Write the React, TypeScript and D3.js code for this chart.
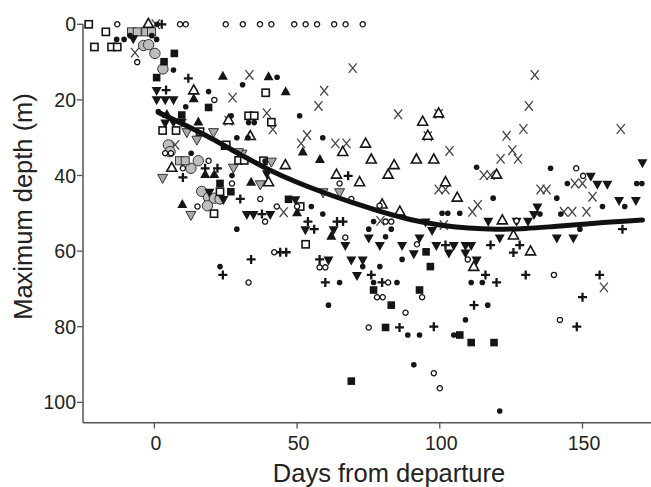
import React from 'react';
import * as d3 from 'd3';

type Pt = [number, number]; // [days from departure, maximum depth]

// axis ticks
const xTicks = [0, 50, 100, 150];
const yTicks = [0, 20, 40, 60, 80, 100];

// points, one array per marker
const openCircles: Pt[] = [
  [-13, 0], [9, 0], [11, 0], [25, 0], [31, 0], [37, 0], [41, 0], [49, 0], [53, 0], [57, 0], [63, 0], [67, 0], [73, 0],
  [-6, 10], [21, 20], [10, 38.1], [19, 36.1], [3.8, 34.1], [5.8, 34.1], [15.1, 48.2], [27.2, 42.1], [37.1, 46.2],
  [42.9, 48.2], [50, 48.2], [38.8, 52.2], [42, 60.3], [33, 68.3], [57.9, 64.3], [59.9, 64.3], [64.9, 42.1],
  [69, 46.2], [78.9, 48], [81, 52.2], [83, 52.2], [66.9, 56.4], [92, 58.2], [81.9, 68.3], [78, 72.2], [80, 72.2],
  [88, 76.3], [93.8, 72.2], [75.1, 80.2], [97.9, 92.3], [100, 96.3], [147.8, 38.1], [150.2, 40.1], [126.9, 52],
  [109.8, 62.2], [140, 66.3], [142.1, 78.2],
];

const filledCircles: Pt[] = [
  [1, 0], [-13.2, 4], [-10.6, 4], [-8.5, 3], [-0.9, 3], [0.8, 4], [6.7, 12.1], [19, 17.8], [11, 21.8], [30.9, 16],
  [43, 14], [1.4, 23.1], [26.9, 24.2], [33, 26], [35, 26], [50.9, 24.2], [59, 30], [28.9, 30], [32.8, 30], [38.8, 36.2],
  [27.2, 40], [12.9, 34.1], [55, 48.2], [59, 50.2], [76.8, 52.2], [75.1, 54.2], [83, 54.2], [81, 56.2], [86.8, 62.2],
  [73, 64.1], [79, 64.1], [76.8, 68.3], [85, 68.3], [61, 74.3], [64.9, 68.3], [28.9, 54.2], [23, 64.1],
  [112.9, 37.8], [138.8, 38.1], [144.7, 42.1], [169, 42.1], [170.8, 42.1], [118.7, 46], [141, 46], [157, 48.2],
  [164.8, 48.2], [100.8, 50], [102.8, 50], [107, 50], [135.1, 50.2], [142.4, 50.2], [149.1, 54.2], [111, 68.3],
  [114.9, 68.3], [116.8, 74.3], [109, 78.2], [88.8, 82.2], [92.9, 82.2], [90.9, 90.1], [104.9, 82.2], [121, 102.3],
];

const openSquares: Pt[] = [
  [-23, 0], [-17, 2], [-21, 6], [-15, 6], [-13, 6], [39, 18.1], [33, 24.2], [35, 24.2], [41, 25.9], [24.8, 32.1],
  [29.5, 36], [31.5, 36], [38.2, 36.1], [2.9, 28.1], [7.6, 28.1], [16, 28.4], [25.2, 31.9], [20.9, 50.1], [23, 44.3],
  [53, 58.2], [51.1, 48.2],
];

const filledSquares: Pt[] = [
  [7, 7.7], [3.4, 9.9], [0.8, 14.1], [19, 22], [9.6, 24], [23, 42.1], [26.8, 44.3], [47, 46.3], [95.2, 60.2],
  [96.7, 64.1], [76.8, 70.3], [83, 74.3], [92.9, 70.3], [81, 80.2], [69, 94.4], [107, 82.2], [111, 84.2], [119, 84.2],
];

const pluses: Pt[] = [
  [2.6, 0], [11.9, 14.3], [4.1, 17.4], [17.8, 38.1], [22.1, 38.1], [10, 40.5], [67.9, 40.1], [30.1, 46.2],
  [53.8, 52.2], [56, 54.2], [64, 52.2], [66.1, 52.2], [37.7, 50.2], [44.1, 60.3], [46.2, 60.3], [33.9, 62.2],
  [24, 66.3], [57.9, 62.2], [59.9, 68.3], [76, 66.3], [79.8, 68.3], [85.9, 80.2], [164, 54.2], [102, 58.4],
  [117.8, 58.4], [128, 58.4], [125.8, 60.4], [116, 66.3], [119.9, 68.3], [130.1, 66.3], [156, 66.3], [112, 74.3],
  [150, 72.2], [148, 80], [97.9, 80],
];

const crosses: Pt[] = [
  [-6.8, 7.5], [0.5, 0], [7.3, 31.9], [33.3, 13.4], [27.4, 19.4], [69.5, 11.6], [59.5, 17.6], [57.5, 21.6],
  [85.4, 23.8], [99.6, 23.7], [95.8, 29.6], [103.4, 33.5], [133.3, 13.4], [131.2, 21.6], [129.3, 27.7],
  [123.4, 29.5], [125.4, 33.3], [121.3, 35.6], [127.4, 35.6], [163.4, 27.7], [39.4, 23.5], [41.5, 27.8], [26, 25.5],
  [53.5, 29.3], [51.4, 31.5], [63.4, 31.5], [67.3, 31.5], [45.3, 49.7], [79.2, 52], [115.4, 39.9], [117.8, 39.9],
  [147.3, 42.1], [150, 42.1], [99.6, 43.7], [102, 43.7], [135.3, 43.7], [137.4, 43.7], [153.5, 45.6], [111.4, 49.6],
  [113.3, 47.8], [143.5, 49.6], [146.4, 49.6], [151.4, 49.6], [101.4, 53.1], [157.5, 69.6],
];

const openTriangles: Pt[] = [
  [-2.1, 0], [13.8, 17.6], [26, 25.5], [33.6, 29.7], [94, 25.9], [99.6, 23.7], [95.8, 29.6], [97.9, 35.9],
  [74, 31.7], [66, 33.9], [76, 35.9], [84, 37.4], [91.8, 35.9], [45.9, 37.4], [63.8, 39.9], [81.9, 39.9],
  [71.9, 41.9], [40, 41.9], [79.8, 47.8], [86, 49.7], [6.1, 38.1], [119.9, 39.9], [102, 41.9], [106.1, 46],
  [121.9, 52], [125.8, 56], [131.8, 60.2], [111.9, 64.3],
];

const filledTriangles: Pt[] = [
  [24, 13.9], [40, 14], [46, 18], [13.8, 19.8], [52, 33.9], [58, 35.9], [33.9, 41.9], [17.8, 39.9], [21, 39.9],
  [9.8, 47.8], [4.4, 24], [15.4, 26], [50, 50], [62, 56.2],
];

const downTriangles: Pt[] = [
  [-7.4, 3.7], [0.8, 17.4], [0.8, 19.8], [3.8, 19.8], [6.7, 19.8], [6.7, 25.8], [9.6, 25.8], [3.8, 26],
  [39.4, 39.4], [24.2, 46.2], [19.3, 44.3], [49.4, 46.3], [32.4, 50.2], [34.7, 50.2], [40.6, 50.2], [52.9, 54.2],
  [62.8, 54.2], [66.9, 58.4], [69, 62.2], [73, 62.2], [71, 66.3], [61, 62.2], [75.1, 56.4], [79, 58.4],
  [86.8, 58.4], [92.9, 56.4], [90.9, 60.6], [171, 36.5], [152.9, 40.1], [155.2, 42.2], [158.7, 42.2],
  [162.8, 46.5], [168.7, 46.5], [134.2, 48.2], [133, 50.2], [117, 52], [126.9, 52], [130.9, 52], [95, 52.2],
  [97.3, 54.4], [121, 56.4], [141, 56.4], [146.8, 56.4], [98.8, 58.4], [104.9, 58.4], [109, 58.4], [111, 58.4],
  [103.2, 60.4], [109, 60.4], [112.9, 62.2],
];

const grayDownTriangles: Pt[] = [
  [20.7, 28.4], [30.7, 34.1], [41, 36.2], [11.4, 28.4], [14.9, 30.4], [29.5, 33.7], [37.1, 42.2], [27.7, 37.8],
  [59.1, 44.3], [64.9, 44.3], [2.9, 40.5], [12.8, 50.3],
];

const grayCircles: Pt[] = [
  [-3.8, 5.6], [-2, 5.4], [0.2, 7.7], [3, 11.8], [4.9, 31.9], [5.5, 33.7], [12.8, 38.1], [15.4, 36.1],
  [16.6, 44.2], [19, 45.8], [21, 46], [23, 46.2], [18.6, 48],
];

const graySquares: Pt[] = [
  [-8, 2], [-6, 2], [-3, 2], [-1, 2], [8.8, 36.1], [10.8, 36.1],
];

// fitted trend line
const fitLine: Pt[] = [
  [1.4, 23.3], [10, 26.4], [20, 30.2], [30, 34.4], [40, 38.4], [50, 41.8], [60, 44.7], [70, 47.3], [80, 49.7],
  [90, 51.7], [100, 53.1], [110, 53.9], [120, 54.2], [130, 54], [140, 53.5], [150, 52.9], [160, 52.3], [171, 51.8],
];

const W = 651;
const H = 487;
const x = d3.scaleLinear().domain([-25, 174]).range([83, 651]);
const y = d3.scaleLinear().domain([0, 105.4]).range([24.3, 422.7]);

const ink = '#151515';
const font = '"Liberation Sans", Arial, Helvetica, sans-serif';

const triUp = (s: number) => `M0,${-s * 0.6}L${s / 2},${s * 0.3}L${-s / 2},${s * 0.3}Z`;
const triDown = (s: number) => `M0,${s * 0.6}L${s / 2},${-s * 0.3}L${-s / 2},${-s * 0.3}Z`;

const Marks = ({ pts, render }: { pts: Pt[]; render: (k: number) => React.ReactNode }) => (
  <g>
    {pts.map((d, i) => (
      <g key={i} transform={`translate(${x(d[0])},${y(d[1])})`}>{render(i)}</g>
    ))}
  </g>
);

export default function App() {
  const line = d3.line<Pt>().x(d => x(d[0])).y(d => y(d[1])).curve(d3.curveCatmullRom.alpha(0.5));
  const axisColor = '#555';
  return (
    <svg width={W} height={H} style={{ position: 'absolute', left: 0, top: 0, background: '#fff' }} fontFamily={font}>
      {/* axes */}
      <line x1={83} x2={83} y1={y(0)} y2={422.7} stroke={axisColor} strokeWidth={1.5} />
      <line x1={83} x2={651} y1={422.7} y2={422.7} stroke={axisColor} strokeWidth={1.5} />
      {yTicks.map(t => (
        <g key={t}>
          <line x1={77} x2={83} y1={y(t)} y2={y(t)} stroke={axisColor} strokeWidth={1.3} />
          <text x={76} y={y(t)} dy="0.36em" textAnchor="end" fontSize={19.5} fill="#222">{t}</text>
        </g>
      ))}
      {xTicks.map(t => (
        <g key={t}>
          <line x1={x(t)} x2={x(t)} y1={422.7} y2={428.5} stroke={axisColor} strokeWidth={1.3} />
          <text x={x(t) + 1.5} y={450} textAnchor="middle" fontSize={19.5} fill="#222">{t}</text>
        </g>
      ))}
      <text x={389} y={481.5} textAnchor="middle" fontSize={25.5} fill="#222">Days from departure</text>
      <text transform="translate(31.5,206.5) rotate(-90)" textAnchor="middle" fontSize={25.5} fill="#222">Maximum depth (m)</text>

      {/* points */}
      <Marks pts={crosses} render={() => (
        <path d="M-4,-4.8L4,4.8M4,-4.8L-4,4.8" stroke="#444" strokeWidth={1.3} fill="none" />
      )} />
      <Marks pts={grayCircles} render={() => <circle r={5.2} fill="#bdbdbd" stroke="#333" strokeWidth={1} />} />
      <Marks pts={graySquares} render={() => <rect x={-4} y={-4} width={8} height={8} fill="#bdbdbd" stroke="#333" strokeWidth={1} />} />
      <Marks pts={grayDownTriangles} render={() => <path d={triDown(10)} fill="#a8a8a8" stroke="#333" strokeWidth={1} />} />
      <Marks pts={openSquares} render={() => <rect x={-3.6} y={-3.6} width={7.2} height={7.2} fill="#fff" stroke={ink} strokeWidth={1.6} />} />
      <Marks pts={filledSquares} render={() => <rect x={-3.8} y={-3.8} width={7.6} height={7.6} fill={ink} />} />
      <Marks pts={openTriangles} render={() => <path d={triUp(10)} fill="#fff" stroke={ink} strokeWidth={1.6} />} />
      <Marks pts={filledTriangles} render={() => <path d={triUp(10)} fill={ink} />} />
      <Marks pts={downTriangles} render={() => <path d={triDown(10)} fill={ink} />} />
      <Marks pts={pluses} render={() => (
        <path d="M-4.5,0H4.5M0,-4.5V4.5" stroke={ink} strokeWidth={2.3} fill="none" />
      )} />
      <Marks pts={filledCircles} render={() => <circle r={2.8} fill={ink} />} />
      <Marks pts={openCircles} render={() => <circle r={2.6} fill="#fff" stroke={ink} strokeWidth={1.3} />} />

      {/* trend */}
      <path d={line(fitLine) || ''} fill="none" stroke="#111" strokeWidth={5} strokeLinecap="round" strokeLinejoin="round" />
    </svg>
  );
}
